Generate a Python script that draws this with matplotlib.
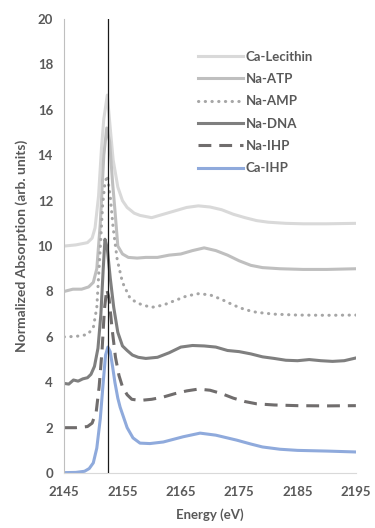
import matplotlib.pyplot as plt

plt.rcParams['font.family'] = ['Lato', 'DejaVu Sans']

GRAY_TXT = '#595959'

# energies (eV) and normalized absorption (offset)
e_lec = [2145, 2147, 2149, 2149.8, 2150.3, 2150.9, 2151.4, 2151.8, 2152.4, 2152.9, 2153.4, 2154.2,
         2155, 2155.8, 2157, 2158, 2160, 2162, 2164, 2166, 2168, 2170, 2172, 2174, 2176, 2178,
         2180, 2183, 2186, 2190, 2195]
v_lec = [10.0, 10.05, 10.15, 10.35, 10.8, 12.2, 14.3, 15.6, 16.65, 15.2, 13.8, 12.6,
         12.0, 11.7, 11.45, 11.35, 11.25, 11.4, 11.55, 11.7, 11.77, 11.72, 11.6, 11.4, 11.25, 11.12,
         11.05, 11.0, 10.98, 10.98, 11.0]

e_atp = [2145, 2146.5, 2148, 2149.2, 2150, 2150.6, 2151.2, 2151.8, 2152.3, 2152.8, 2153.3, 2153.7,
         2154.2, 2155, 2156, 2157.5, 2159, 2161, 2163, 2165, 2167, 2169, 2171, 2173, 2175, 2177,
         2179, 2182, 2186, 2190, 2195]
v_atp = [8.0, 8.1, 8.1, 8.2, 8.4, 9.0, 11.0, 14.0, 15.2, 14.6, 12.8, 11.6,
         10.0, 9.65, 9.5, 9.47, 9.5, 9.5, 9.6, 9.65, 9.8, 9.92, 9.8, 9.6, 9.35, 9.15,
         9.05, 9.0, 8.97, 8.97, 9.0]

e_amp = [2145, 2147, 2149, 2150, 2150.6, 2151.1, 2151.6, 2152.0, 2152.4, 2152.9, 2153.4, 2154.1,
         2155, 2156.3, 2157.5, 2158.5, 2160, 2162, 2164, 2166, 2168, 2170, 2172, 2174, 2176,
         2178, 2181, 2185, 2190, 2195]
v_amp = [6.0, 6.02, 6.1, 6.4, 7.3, 9.5, 11.8, 12.8, 13.1, 12.2, 10.8, 9.4,
         8.4, 7.7, 7.5, 7.4, 7.3, 7.4, 7.6, 7.8, 7.9, 7.85, 7.65, 7.4, 7.2,
         7.08, 7.0, 6.96, 6.95, 6.96]

e_dna = [2145, 2145.8, 2146.6, 2147.4, 2148.2, 2149, 2149.6, 2150.2, 2150.8, 2151.3, 2151.7, 2152.0,
         2152.4, 2152.9, 2153.5, 2154.2, 2155, 2155.8, 2156.7, 2157.7, 2159, 2161, 2163, 2165,
         2167, 2169, 2171, 2173, 2175, 2177, 2179, 2181, 2183, 2185, 2187, 2189, 2191, 2193, 2195]
v_dna = [3.95, 3.92, 4.1, 4.05, 4.15, 4.2, 4.35, 4.7, 5.5, 7.0, 9.0, 10.3,
         9.9, 8.6, 7.3, 6.2, 5.6, 5.4, 5.2, 5.1, 5.05, 5.1, 5.3, 5.55,
         5.62, 5.6, 5.55, 5.4, 5.35, 5.25, 5.12, 5.05, 4.97, 4.95, 5.0, 4.95, 4.92, 4.95, 5.07]

e_nihp = [2145, 2147, 2149, 2149.8, 2150.5, 2151.0, 2151.5, 2151.9, 2152.3, 2152.7, 2153.2, 2153.8,
          2154.4, 2155, 2155.8, 2156.6, 2158, 2160, 2162, 2164, 2166, 2168, 2170, 2172, 2174,
          2176, 2178, 2181, 2185, 2190, 2195]
v_nihp = [2.0, 2.0, 2.05, 2.2, 2.7, 3.8, 5.4, 7.2, 8.1, 7.7, 6.4, 5.1,
          4.3, 3.8, 3.45, 3.25, 3.2, 3.25, 3.35, 3.5, 3.62, 3.7, 3.65, 3.5, 3.3,
          3.15, 3.05, 3.0, 2.97, 2.96, 2.97]

e_cihp = [2145, 2147, 2148.5, 2149.3, 2150, 2150.6, 2151.2, 2151.7, 2152.1, 2152.5, 2152.9, 2153.3,
          2153.7, 2154.2, 2154.6, 2155.2, 2155.8, 2156.8, 2158, 2159.7, 2162, 2165.4, 2168.3, 2171,
          2174.6, 2177, 2179, 2182, 2185, 2190, 2195]
v_cihp = [0.02, 0.03, 0.08, 0.2, 0.45, 1.1, 2.4, 4.0, 5.2, 5.55, 5.35, 4.7,
          4.0, 3.3, 2.9, 2.45, 2.0, 1.55, 1.32, 1.3, 1.37, 1.6, 1.76, 1.67,
          1.45, 1.28, 1.15, 1.05, 1.0, 0.97, 0.93]

edge_energy = 2152.5

fig = plt.figure(figsize=(3.75, 5.28), dpi=100)
ax = fig.add_axes([0.171, 0.104, 0.778, 0.86])

lw = 2.2
ax.plot(e_lec, v_lec, color='#d9d9d9', lw=lw, label='Ca-Lecithin')
ax.plot(e_atp, v_atp, color='#bfbfbf', lw=lw, label='Na-ATP')
ax.plot(e_amp, v_amp, color='#a6a6a6', lw=lw, ls=(0, (0.1, 2.1)), dash_capstyle='round', label='Na-AMP')
ax.plot(e_dna, v_dna, color='#7f7f7f', lw=lw, label='Na-DNA')
ax.plot(e_nihp, v_nihp, color='#706d6d', lw=lw, ls=(0, (4.2, 2.6)), label='Na-IHP')
ax.plot(e_cihp, v_cihp, color='#8faadc', lw=lw, label='Ca-IHP')
ax.axvline(edge_energy, color='#1a1a1a', lw=0.9, zorder=5)

ax.set_xlim(2145, 2195)
ax.set_ylim(0, 20)
ax.set_xticks(range(2145, 2196, 10))
ax.set_yticks(range(0, 21, 2))
ax.tick_params(axis='y', length=0, labelsize=9.5, labelcolor=GRAY_TXT, pad=8)
ax.tick_params(axis='x', length=0, labelsize=9.5, labelcolor=GRAY_TXT, pad=9)
for lab in ax.get_xticklabels() + ax.get_yticklabels():
    lab.set_fontweight('bold')

for s in ['top', 'right']:
    ax.spines[s].set_visible(False)
ax.spines['left'].set_color('#bfbfbf')
ax.spines['bottom'].set_color('#d9d9d9')

ax.set_xlabel('Energy (eV)', fontsize=9.5, fontweight='bold', color=GRAY_TXT, labelpad=8)
ax.set_ylabel('Normalized Absorption (arb. units)', fontsize=10, fontweight='bold', color=GRAY_TXT, labelpad=7)

leg = ax.legend(loc='upper left', bbox_to_anchor=(0.458, 0.93), frameon=False, fontsize=9.5,
                borderaxespad=0, borderpad=0, handlelength=3.4, handletextpad=0.25, labelspacing=0.78)
for t in leg.get_texts():
    t.set_color(GRAY_TXT)
    t.set_fontweight('bold')

fig.savefig('out.png', dpi=100)
